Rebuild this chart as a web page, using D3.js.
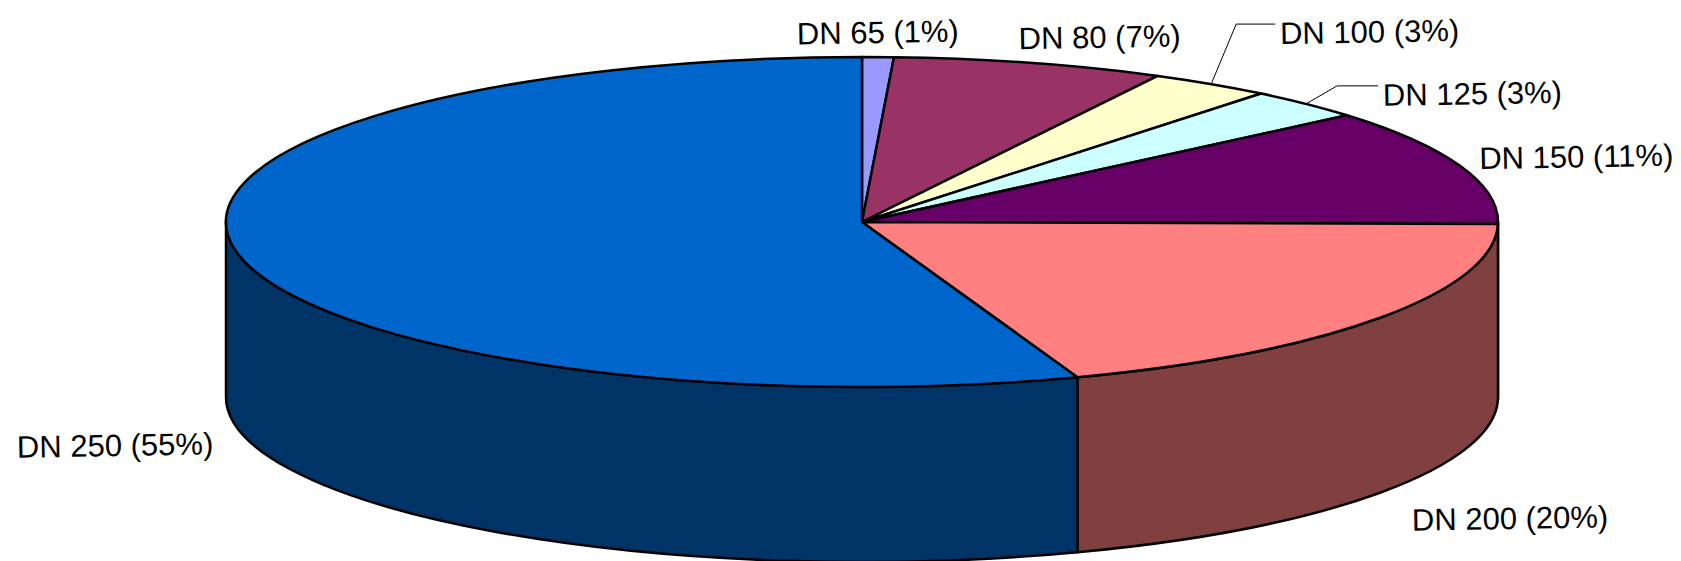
<!doctype html>
<meta charset="utf-8">
<style>
body {
  margin: 0;
  background: #fff;
  font-family: "Liberation Sans", Arial, sans-serif;
}
</style>
<script src="https://cdn.jsdelivr.net/npm/d3@7"></script>
<body>

<script>

// data (slice sizes as drawn, labels as printed)
var names = ["DN 65", "DN 80", "DN 100", "DN 125", "DN 150", "DN 200", "DN 250"];
var shares = [0.8, 6.9, 3.1, 3.0, 11.4, 19.3, 55.5];
var pctLabels = ["1%", "7%", "3%", "3%", "11%", "20%", "55%"];
var topColors = ["#9999ff", "#993366", "#ffffcc", "#ccffff", "#660066", "#ff8080", "#0066cc"];
var sideColors = ["#4d4d80", "#4d1a33", "#808066", "#668080", "#330033", "#804040", "#003366"];

// label placement relative to the slice's mid point on the rim
// (lead = leader line elbow offset, for the thin slices)
var labelLayout = [
  {dx: 0,   dy: -14, anchor: "middle"},
  {dx: 70,  dy: -15, anchor: "middle"},
  {dx: 69,  dy: -40, anchor: "start", lead: [25, -60]},
  {dx: 77,  dy: 2,   anchor: "start", lead: [31, -18]},
  {dx: 19,  dy: 3,   anchor: "start"},
  {dx: 32,  dy: 38,  anchor: "start"},
  {dx: -22, dy: 29,  anchor: "end"}
];

var w = 1681, h = 561;
var cx = 862, cy = 222, rx = 636, ry = 165, depth = 175;

var svg = d3.select("body")
  .append("svg")
    .attr("width", w)
    .attr("height", h)

var pie = d3.pie().sort(null).value(d => d)(shares);

function pt(a, off) {
  return [cx + rx * Math.sin(a), cy + (off || 0) - ry * Math.cos(a)];
}

function topPath(d) {
  var p0 = pt(d.startAngle), p1 = pt(d.endAngle);
  var large = d.endAngle - d.startAngle > Math.PI ? 1 : 0;
  return "M" + cx + "," + cy + "L" + p0 + "A" + rx + "," + ry + " 0 " + large + " 1 " + p1 + "Z";
}

function sidePath(a0, a1) {
  var t0 = pt(a0), t1 = pt(a1), b0 = pt(a0, depth), b1 = pt(a1, depth);
  return "M" + t0 + "A" + rx + "," + ry + " 0 0 1 " + t1 +
    "L" + b1 + "A" + rx + "," + ry + " 0 0 0 " + b0 + "Z";
}

// side walls, only the front half shows
var sides = svg.append("g");
pie.forEach(function(d, i) {
  var a0 = Math.max(d.startAngle, Math.PI / 2);
  var a1 = Math.min(d.endAngle, 3 * Math.PI / 2);
  if (a1 <= a0) return;
  sides.append("path")
    .attr("d", sidePath(a0, a1))
    .style("fill", sideColors[i])
    .style("stroke", "#000")
    .style("stroke-width", 2.5)
    .style("stroke-linejoin", "round");
});

// top faces
svg.append("g").selectAll("path")
  .data(pie)
  .join("path")
    .attr("d", topPath)
    .style("fill", (d, i) => topColors[i])
    .style("stroke", "#000")
    .style("stroke-width", 2.5)
    .style("stroke-linejoin", "round");

// labels
var labels = svg.append("g")
  .style("font-size", "31px")
  .style("fill", "#000");

pie.forEach(function(d, i) {
  var mid = (d.startAngle + d.endAngle) / 2;
  var front = Math.cos(mid) < 0;
  var p = pt(mid, front ? depth : 0);
  var L = labelLayout[i];
  var x = p[0] + L.dx, y = p[1] + L.dy;
  if (L.lead) {
    var e = [p[0] + L.lead[0], p[1] + L.lead[1]];
    svg.append("polyline")
      .attr("points", [p, e, [x - 5, e[1]]].join(" "))
      .style("fill", "none")
      .style("stroke", "#000")
      .style("stroke-width", 1);
  }
  labels.append("text")
    .attr("x", x)
    .attr("y", y)
    .attr("text-anchor", L.anchor)
    .attr("transform", "rotate(-1," + x + "," + y + ")")
    .text(names[i] + " (" + pctLabels[i] + ")");
});

</script>
